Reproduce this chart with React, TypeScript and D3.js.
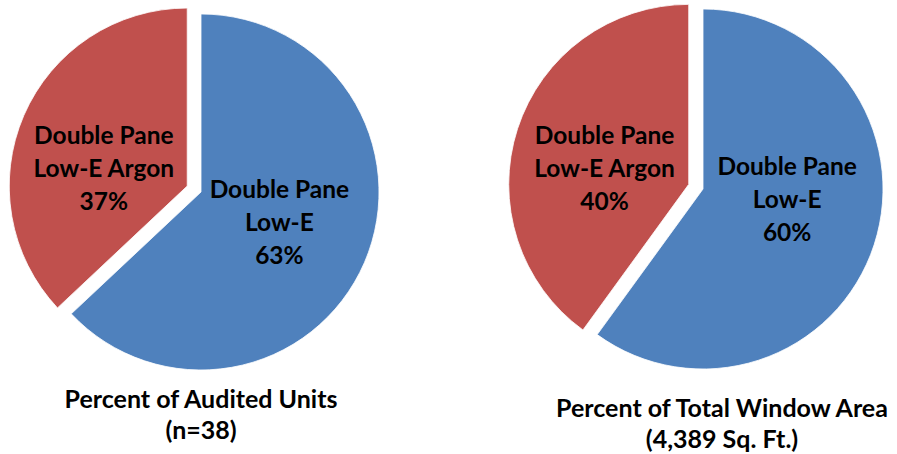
import React, { useEffect, useRef } from 'react'
import * as d3 from 'd3'

// slice order: blue first (clockwise from 12 o'clock), then red
const sliceNames = ['Double Pane\nLow-E', 'Double Pane\nLow-E Argon']
const unitsValues = [63, 37]
const areaValues = [60, 40]
const chartTitles = [
  ['Percent of Audited Units', '(n=38)'],
  ['Percent of Total Window Area', '(4,389 Sq. Ft.)']
]

const colors = ['#4F81BD', '#C0504D']
const FONT = 'Lato, "Open Sans", sans-serif'

interface PieLayout {
  cx: number
  cy: number
  r: number
  explode: number
  labelNudge: [number, number][]
  titleX: number
  titleY: number
}

const layouts: PieLayout[] = [
  { cx: 201, cy: 192, r: 178, explode: 15, labelNudge: [[0, -4], [-5, 15]], titleX: 201, titleY: 398 },
  { cx: 703, cy: 189, r: 180, explode: 15, labelNudge: [[2, -17], [-2, 10]], titleX: 722, titleY: 407 }
]

const App: React.FC = () => {
  const svgRef = useRef<SVGSVGElement>(null)

  useEffect(() => {
    if (!svgRef.current) return
    const svg = d3.select(svgRef.current)
    svg.selectAll('*').remove()

    const pie = d3.pie<number>().sort(null).startAngle(0).endAngle(2 * Math.PI)

    const datasets = [unitsValues, areaValues]
    datasets.forEach((values, k) => {
      const L = layouts[k]
      const arcs = pie(values)
      const arc = d3.arc<d3.PieArcDatum<number>>().innerRadius(0).outerRadius(L.r)
      const labelArc = d3.arc<d3.PieArcDatum<number>>().innerRadius(L.r * 0.48).outerRadius(L.r * 0.48)

      const g = svg.append('g').attr('transform', `translate(${L.cx},${L.cy})`)

      arcs.forEach((a, i) => {
        const mid = (a.startAngle + a.endAngle) / 2
        // explode the smaller (red) slice outwards
        const d = i === 1 ? L.explode : 0
        const dx = Math.sin(mid) * d
        const dy = -Math.cos(mid) * d
        const sg = g.append('g').attr('transform', `translate(${dx},${dy})`)
        sg.append('path')
          .attr('d', arc(a) as string)
          .attr('fill', colors[i])
          .attr('stroke', '#ffffff')
          .attr('stroke-width', 0.8)

        const [lx, ly] = labelArc.centroid(a)
        const lines = [...sliceNames[i].split('\n'), `${values[i]}%`]
        const text = sg.append('text')
          .attr('text-anchor', 'middle')
          .attr('font-family', FONT)
          .attr('font-weight', 'bold')
          .attr('font-size', 24.5)
          .attr('fill', '#000')
        lines.forEach((t, j) => {
          text.append('tspan')
            .attr('x', lx + L.labelNudge[i][0])
            .attr('y', ly + L.labelNudge[i][1] + (j - 1) * 33)
            .attr('dominant-baseline', 'central')
            .text(t)
        })
      })

      const title = svg.append('text')
        .attr('text-anchor', 'middle')
        .attr('font-family', FONT)
        .attr('font-weight', 'bold')
        .attr('font-size', 25)
        .attr('fill', '#000')
      chartTitles[k].forEach((t, j) => {
        title.append('tspan')
          .attr('x', L.titleX)
          .attr('y', L.titleY + j * 31)
          .attr('dominant-baseline', 'central')
          .text(t)
      })
    })
  }, [])

  return (
    <svg
      ref={svgRef}
      width={897}
      height={454}
      style={{ position: 'absolute', left: 0, top: 0, background: '#fff' }}
    />
  )
}

export default App
